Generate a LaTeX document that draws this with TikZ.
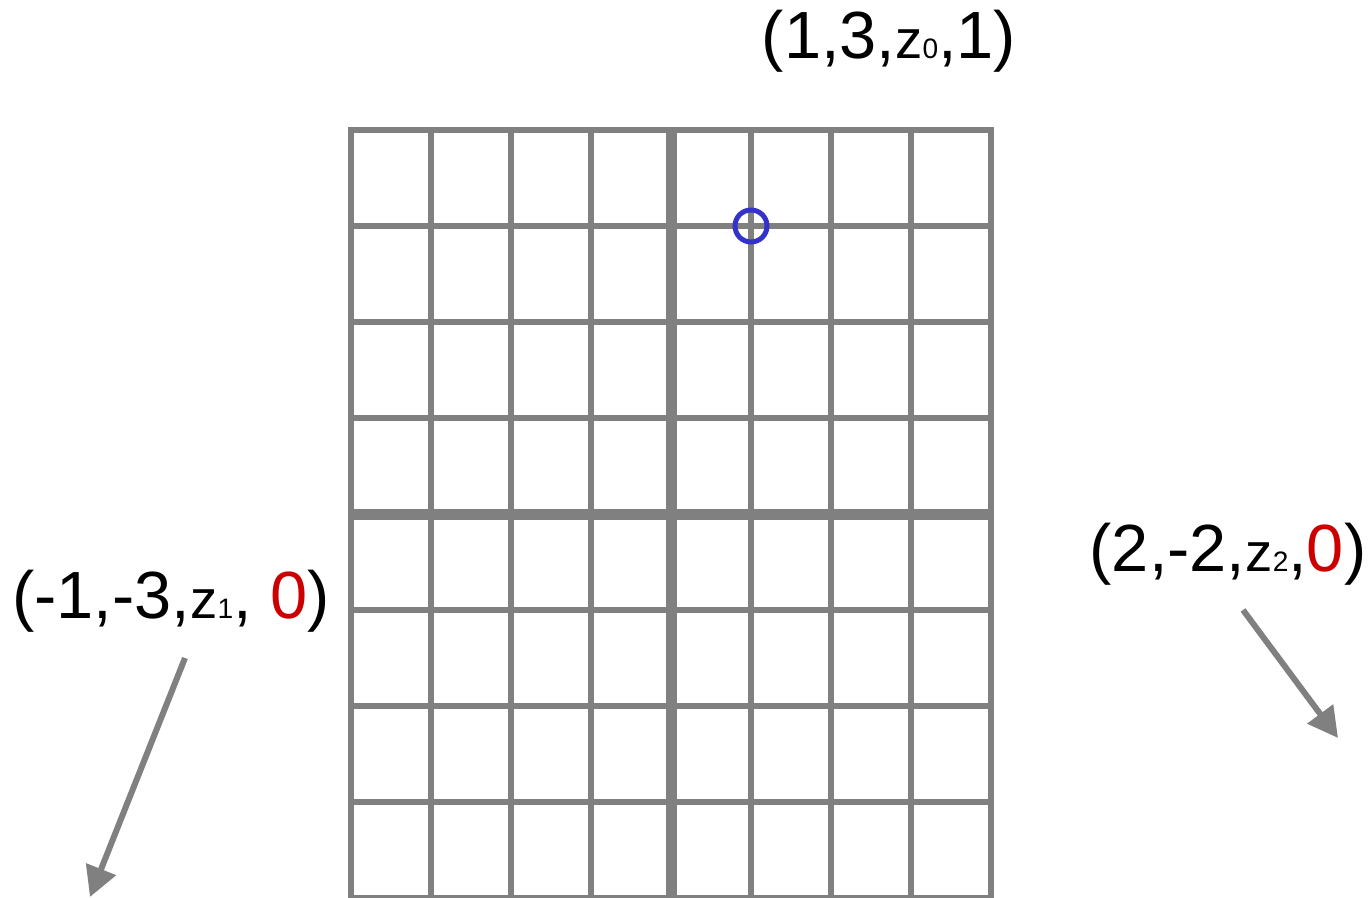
\documentclass[tikz,border=0pt]{standalone}
\usepackage{fontspec}
\setmainfont{Liberation Sans}
\usetikzlibrary{arrows.meta}
\definecolor{gridgray}{HTML}{808080}
\definecolor{markblue}{HTML}{3333CC}
\definecolor{zerored}{HTML}{CC0000}
\newcommand{\zvar}[1]{{\fontsize{31}{31}\selectfont z}{\fontsize{16}{16}\selectfont #1}}
\newcommand{\zero}{\textcolor{zerored}{0}}
\tikzset{
  gridline/.style={draw=gridgray,line width=0.12cm},
  midline/.style={draw=gridgray,line width=0.22cm},
  coordlabel/.style={anchor=base,inner sep=0pt,font=\fontsize{38}{38}\selectfont},
  shiftarrow/.style={draw=gridgray,line width=0.12cm,-{Triangle[length=0.6cm,width=0.62cm]}}
}
\begin{document}
\begin{tikzpicture}[x=0.02cm,y=-0.02cm]
  \useasboundingbox (0,0) rectangle (1372,898);
  % 8x8 grid of pixels
  \foreach \i in {1,2,3,5,6,7} {
    \draw[gridline] (351+80*\i,130) -- (351+80*\i,898);
    \draw[gridline] (351,130+96*\i) -- (991,130+96*\i);
  }
  \draw[midline] (671,130) -- (671,898);
  \draw[midline] (351,514) -- (991,514);
  \draw[gridline] (351,898) rectangle (991,130);
  % Sample point
  \draw[markblue,line width=0.1cm] (751,226) circle (16);
  % Coordinates of the sample and its neighbours
  \node[coordlabel] (top) at (889,59) {(1,3,\zvar{0},1)};
  \node[coordlabel] (left) at (171,618) {(-1,-3,\zvar{1}, \zero)};
  \node[coordlabel] (right) at (1228,571) {(2,-2,\zvar{2},\zero)};
  % Arrows leaving the grid
  \coordinate (lefttail) at (185,658);
  \coordinate (lefthead) at (90,897);
  \coordinate (righttail) at (1243,610);
  \coordinate (righthead) at (1338,738);
  \draw[shiftarrow] (lefttail) -- (lefthead);
  \draw[shiftarrow] (righttail) -- (righthead);
\end{tikzpicture}
\end{document}
